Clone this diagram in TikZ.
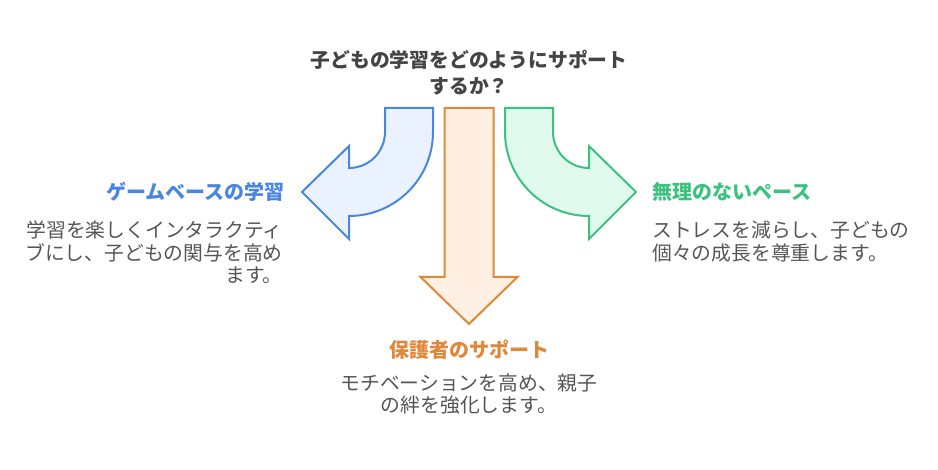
\documentclass[tikz,border=0pt]{standalone}
\usepackage{fontspec}
\setmainfont{Noto Sans CJK JP}
\newfontfamily\cjk{Noto Sans CJK JP}
\definecolor{bluec}{HTML}{4A86E0}
\definecolor{bluef}{HTML}{EAF2FF}
\definecolor{orc}{HTML}{E0883A}
\definecolor{orf}{HTML}{FFF0E3}
\definecolor{grc}{HTML}{3CC27F}
\definecolor{grf}{HTML}{E0FBEE}
\definecolor{txt}{HTML}{555555}
\definecolor{ttl}{HTML}{444444}
\tikzset{
  arr/.style={line width=2pt, line join=miter},
  lbl/.style={inner sep=0pt, font=\cjk\bfseries\fontsize{20}{22}\selectfont},
  body/.style={inner sep=0pt, text=txt, font=\cjk\fontsize{19.8}{22.5}\selectfont},
}
\begin{document}
\begin{tikzpicture}[x=1pt,y=-1pt]
\useasboundingbox (0,0) rectangle (938,470);
% blue arrow
\draw[arr, draw=bluec, fill=bluef] (385,108) -- (433,108) -- (433,132)
  .. controls (433,178.4) and (395.4,216) .. (349,216)
  -- (349,239) -- (302,192) -- (349,146) -- (349,168)
  .. controls (368.9,168) and (385,151.9) .. (385,132) -- cycle;
% green arrow
\draw[arr, draw=grc, fill=grf] (553,108) -- (505,108) -- (505,132)
  .. controls (505,178.4) and (542.6,216) .. (589,216)
  -- (589,239) -- (636,192) -- (589,146) -- (589,168)
  .. controls (569.1,168) and (553,151.9) .. (553,132) -- cycle;
% orange arrow
\draw[arr, draw=orc, fill=orf] (444.5,108) -- (493.5,108) -- (493.5,277)
  -- (517.5,277) -- (469,324) -- (420.5,277) -- (444.5,277) -- cycle;
% texts
\node[lbl, text=ttl, align=center, font=\cjk\bfseries\fontsize{19.8}{26}\selectfont] (title) at (469,73) {子どもの学習をどのようにサポート\\するか？};
\node[lbl, text=bluec, anchor=east] (gl) at (285,192) {ゲームベースの学習};
\node[body, anchor=east, align=right] (gb) at (283,252.5) {学習を楽しくインタラクティ\\ブにし、子どもの関与を高め\\ます。};
\node[lbl, text=grc, anchor=west] (nl) at (652,192) {無理のないペース};
\node[body, anchor=west, align=left] (nb) at (652,241.5) {ストレスを減らし、子どもの\\個々の成長を尊重します。};
\node[lbl, text=orc] (pl) at (469,350) {保護者のサポート};
\node[body, align=center] (pb) at (469,394) {モチベーションを高め、親子\\の絆を強化します。};
\end{tikzpicture}
\end{document}
